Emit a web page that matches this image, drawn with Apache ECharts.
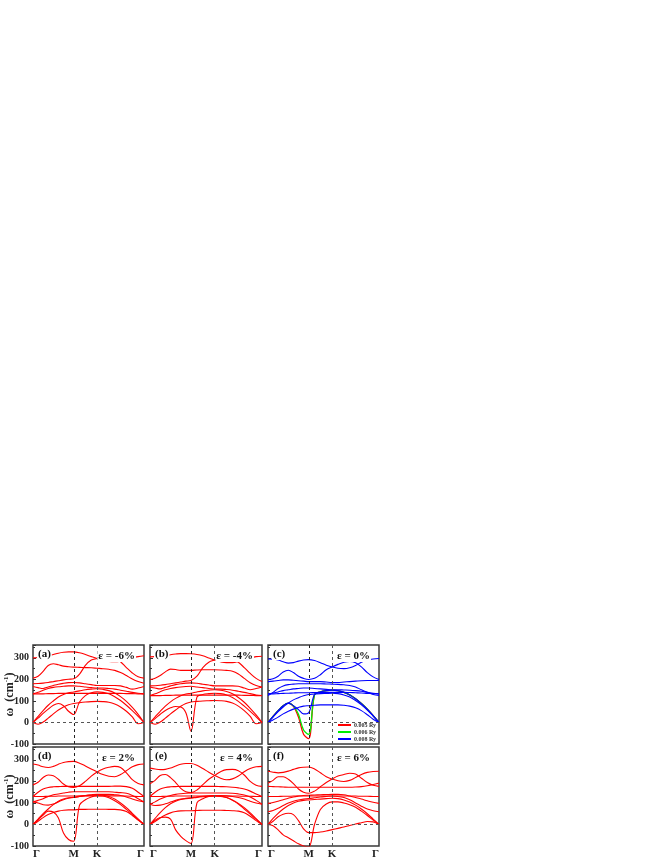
<!DOCTYPE html>
<html>
<head>
<meta charset="utf-8">
<script src="https://cdn.jsdelivr.net/npm/echarts@6/dist/echarts.min.js"></script>
<style>
  html, body { margin: 0; padding: 0; background: #fff; }
  #chart { width: 664px; height: 860px; }
</style>
</head>
<body>
<div id="chart"></div>
<script>
// k-path  Γ - M - K - Γ
const kPath = [0, 0.072, 0.144, 0.216, 0.289, 0.361, 0.433, 0.505, 0.577,
  0.661, 0.744, 0.828, 0.911,
  0.994, 1.078, 1.161, 1.244, 1.327, 1.411, 1.494, 1.577]
const kTicks = [0, 0.577, 0.911, 1.577]
const kTickLabels = ['Γ', 'M', 'K', 'Γ']

// (a) ε = -6%
const bandsA = [
  [300, 302, 305, 310, 316, 322, 326, 328, 328, 324, 316, 306, 297, 290, 284, 282, 285, 292, 300, 306, 310],
  [180, 181, 183, 186, 190, 194, 198, 201, 203, 225, 265, 290, 297, 304, 306, 300, 282, 255, 230, 212, 206],
  [206, 215, 238, 265, 273, 268, 262, 259, 257, 256, 255, 254, 252, 250, 247, 242, 232, 218, 202, 190, 182],
  [167, 162, 158, 165, 172, 178, 182, 185, 186, 184, 180, 176, 172, 172, 172, 172, 170, 163, 155, 160, 167],
  [133, 133, 133, 134, 134, 135, 135, 135, 135, 135, 135, 135, 135, 135, 135, 135, 135, 134, 134, 133, 133],
  [133, 140, 150, 158, 163, 166, 168, 170, 170, 168, 165, 162, 160, 160, 158, 155, 150, 145, 140, 136, 133],
  [0, 28, 55, 80, 100, 118, 130, 138, 142, 147, 152, 155, 157, 154, 148, 137, 120, 98, 70, 38, 0],
  [0, 20, 42, 62, 80, 88, 78, 52, 37, 95, 125, 138, 142, 140, 133, 120, 102, 80, 55, 28, 0],
  [0, -8, 2, 20, 40, 58, 72, 82, 88, 92, 95, 97, 98, 97, 94, 86, 72, 52, 26, -6, 0]
]

// (b) ε = -4%
const bandsB = [
  [305, 306, 308, 311, 315, 318, 320, 320, 319, 316, 310, 300, 290, 282, 278, 278, 283, 292, 300, 306, 308],
  [170, 171, 173, 176, 180, 184, 188, 192, 195, 215, 255, 280, 290, 298, 300, 295, 280, 255, 228, 205, 190],
  [200, 206, 218, 235, 248, 246, 242, 242, 242, 244, 245, 245, 245, 244, 242, 238, 225, 205, 185, 172, 165],
  [165, 160, 156, 163, 170, 176, 180, 183, 184, 182, 178, 174, 170, 170, 170, 170, 168, 160, 152, 158, 165],
  [125, 125, 125, 126, 126, 127, 127, 127, 127, 127, 127, 127, 127, 127, 127, 127, 127, 126, 126, 125, 125],
  [125, 133, 143, 152, 158, 162, 165, 167, 168, 165, 162, 158, 155, 155, 153, 150, 145, 140, 134, 128, 125],
  [0, 26, 52, 76, 96, 112, 124, 132, 136, 142, 147, 150, 152, 150, 144, 133, 116, 94, 66, 35, 0],
  [0, 18, 38, 56, 68, 74, 72, 45, -40, 118, 130, 134, 136, 134, 128, 116, 98, 76, 52, 26, 0],
  [0, -8, 2, 20, 40, 58, 75, 88, 95, 98, 100, 101, 102, 101, 98, 90, 76, 55, 28, -6, 0]
]

// (c) ε = 0%, blue = 0.008 Ry
const bandsC = [
  [295, 294, 290, 282, 276, 278, 285, 290, 292, 288, 278, 266, 258, 252, 250, 254, 265, 280, 290, 295, 297],
  [200, 203, 215, 235, 243, 232, 215, 205, 200, 205, 222, 245, 258, 270, 280, 284, 278, 258, 232, 212, 200],
  [190, 192, 195, 198, 198, 196, 194, 192, 190, 190, 190, 188, 186, 186, 188, 190, 192, 194, 195, 195, 195],
  [125, 140, 158, 170, 176, 178, 180, 180, 180, 180, 180, 179, 178, 177, 175, 172, 165, 152, 140, 130, 125],
  [133, 133, 134, 135, 136, 137, 138, 138, 138, 139, 140, 140, 140, 140, 140, 139, 138, 137, 135, 134, 133],
  [133, 137, 142, 148, 152, 156, 158, 160, 160, 158, 156, 154, 152, 152, 151, 150, 148, 145, 140, 136, 133],
  [0, 25, 50, 72, 90, 105, 115, 124, 130, 132, 134, 135, 136, 134, 128, 118, 102, 82, 58, 30, 0],
  [0, 12, 25, 40, 52, 62, 70, 76, 78, 80, 82, 82, 82, 82, 80, 76, 68, 55, 36, 15, 0]
]
const softC008 = [0, 28, 55, 78, 90, 78, 60, 40, 45, 130, 142, 148, 150, 148, 140, 128, 110, 88, 62, 32, 0]
const softC006 = [0, 28, 55, 78, 90, 77, 38, -35, -55, 128, 142, 148, 150, 148, 140, 128, 110, 88, 62, 32, 0]
const softC005 = [0, 28, 55, 78, 90, 75, 25, -55, -75, 130, 142, 148, 150, 148, 140, 128, 110, 88, 62, 32, 0]

// (d) ε = 2%
const bandsD = [
  [281, 276, 268, 265, 270, 280, 288, 292, 293, 285, 272, 258, 244, 232, 224, 222, 232, 250, 268, 278, 281],
  [184, 196, 218, 230, 226, 210, 188, 175, 172, 180, 200, 225, 244, 258, 266, 270, 265, 240, 208, 190, 184],
  [130, 150, 165, 172, 175, 176, 177, 177, 177, 177, 177, 177, 177, 177, 177, 178, 178, 176, 168, 150, 130],
  [130, 130, 130, 131, 131, 132, 132, 132, 132, 133, 133, 133, 133, 133, 133, 133, 132, 132, 131, 130, 130],
  [105, 112, 120, 130, 138, 142, 146, 150, 152, 152, 152, 152, 152, 152, 152, 150, 148, 145, 135, 120, 105],
  [105, 100, 92, 90, 95, 105, 115, 122, 125, 130, 135, 138, 140, 140, 140, 138, 135, 128, 118, 110, 105],
  [0, 25, 50, 72, 92, 108, 118, 124, 126, 130, 134, 136, 138, 136, 130, 118, 100, 78, 52, 26, 0],
  [0, 15, 32, 46, 56, 62, 66, 68, 68, 70, 70, 71, 71, 71, 70, 70, 68, 60, 42, 20, 0],
  [0, 22, 44, 62, 58, 30, -40, -70, -78, 90, 115, 128, 134, 132, 124, 110, 92, 70, 46, 22, 0]
]

// (e) ε = 4%
const bandsE = [
  [262, 258, 255, 256, 262, 272, 280, 283, 283, 275, 260, 243, 228, 215, 208, 212, 225, 245, 260, 268, 270],
  [189, 205, 228, 232, 218, 195, 168, 152, 148, 160, 185, 210, 228, 245, 255, 256, 250, 230, 200, 182, 177],
  [130, 150, 165, 172, 175, 176, 177, 177, 177, 177, 177, 177, 177, 176, 175, 173, 170, 165, 155, 142, 130],
  [130, 130, 130, 131, 131, 132, 132, 132, 132, 132, 132, 132, 132, 132, 132, 132, 132, 131, 131, 130, 130],
  [94, 105, 118, 128, 135, 140, 143, 145, 146, 146, 146, 146, 146, 146, 146, 145, 142, 137, 128, 112, 94],
  [94, 88, 90, 96, 104, 112, 118, 122, 124, 128, 131, 133, 134, 134, 133, 130, 125, 118, 108, 100, 94],
  [0, 28, 55, 78, 96, 108, 116, 120, 122, 126, 129, 131, 132, 130, 125, 114, 98, 78, 54, 27, 0],
  [0, 14, 30, 44, 54, 60, 63, 64, 64, 65, 66, 66, 66, 66, 65, 64, 62, 55, 38, 18, 0],
  [0, 20, 32, 34, 25, -25, -55, -75, -88, 100, 120, 130, 134, 132, 125, 112, 95, 72, 48, 24, 0]
]

// (f) ε = 6%
const bandsF = [
  [247, 243, 240, 242, 248, 256, 263, 266, 267, 258, 240, 222, 211, 203, 200, 205, 218, 232, 242, 246, 247],
  [192, 205, 222, 222, 210, 190, 165, 150, 145, 155, 175, 195, 211, 225, 232, 238, 235, 215, 195, 182, 177],
  [177, 176, 175, 174, 173, 173, 173, 173, 173, 173, 173, 173, 173, 173, 173, 173, 174, 176, 180, 186, 192],
  [130, 130, 130, 131, 131, 132, 132, 132, 132, 132, 132, 132, 132, 132, 132, 132, 132, 131, 131, 130, 130],
  [98, 102, 108, 115, 122, 128, 132, 135, 136, 137, 138, 139, 140, 140, 138, 132, 125, 118, 110, 103, 98],
  [59, 65, 75, 88, 100, 108, 114, 118, 120, 124, 128, 130, 132, 130, 125, 115, 100, 85, 72, 64, 59],
  [0, 28, 52, 72, 88, 100, 108, 112, 114, 116, 118, 120, 122, 120, 114, 104, 90, 72, 50, 25, 0],
  [0, 15, 36, 48, 52, 46, 18, -20, -38, -38, -35, -30, -24, -18, -12, -5, 2, 8, 14, 12, 0],
  [0, -6, -25, -48, -62, -76, -90, -100, -105, 0, 70, 95, 105, 105, 100, 92, 80, 62, 42, 20, 0]
]

const panelNames = ['(a)', '(b)', '(c)', '(d)', '(e)', '(f)']
const strainNames = ['ε = -6%', 'ε = -4%', 'ε = 0%', 'ε = 2%', 'ε = 4%', 'ε = 6%']
const legendNames = ['0.005 Ry', '0.006 Ry', '0.008 Ry']

const FONT = '"Liberation Serif", "Times New Roman", serif'
const RED = '#ff0000'
const BLUE = '#0000ff'
const GREEN = '#00ee00'

const chart = echarts.init(document.getElementById('chart'))

// panel boxes
const colLeft = [33, 150, 268]
const colWidth = [111, 112, 111]
const rowTop = [645, 747]
const rowHeight = 99

const grid = []
const xAxis = []
const yAxis = []
const series = []
const graphic = []

const toData = band => kPath.map((k, i) => [k, band[i]])

for (let p = 0; p < 6; p++) {
  const row = Math.floor(p / 3)
  const col = p % 3
  grid.push({
    left: colLeft[col],
    top: rowTop[row],
    width: colWidth[col],
    height: rowHeight,
    containLabel: false,
    outerBoundsMode: 'none',
    show: true,
    borderColor: '#3a3a3a',
    borderWidth: 1.5,
    backgroundColor: 'transparent'
  })

  xAxis.push({
    type: 'value',
    gridIndex: p,
    min: 0,
    max: 1.577,
    axisLine: { show: false },
    axisTick: { show: false },
    splitLine: { show: false },
    axisLabel: {
      show: row === 1,
      customValues: kTicks,
      formatter: v => {
        const i = kTicks.findIndex(t => Math.abs(t - v) < 1e-3)
        return i >= 0 ? kTickLabels[i] : ''
      },
      alignMinLabel: 'left',
      alignMaxLabel: 'right',
      margin: 3,
      fontFamily: FONT,
      fontWeight: 'bold',
      fontSize: 11,
      color: '#222'
    }
  })

  yAxis.push({
    type: 'value',
    gridIndex: p,
    min: -100,
    max: 360,
    interval: 100,
    axisLine: { show: false },
    axisTick: { show: true, inside: true, length: 3, lineStyle: { color: '#333' } },
    minorTick: { show: true, splitNumber: 2, length: 2, lineStyle: { color: '#333' } },
    splitLine: { show: false },
    axisLabel: {
      show: col === 0,
      showMaxLabel: false,
      margin: 4,
      fontFamily: FONT,
      fontWeight: 'bold',
      fontSize: 10,
      color: '#222'
    },
    name: col === 0 ? '{a|ω  (cm}{s|-1}{a|)}' : '',
    nameLocation: 'middle',
    nameGap: 17,
    nameMoveOverlap: false,
    nameTextStyle: {
      rich: {
        a: { fontFamily: FONT, fontWeight: 'bold', fontSize: 12, color: '#222' },
        s: { fontFamily: FONT, fontWeight: 'bold', fontSize: 7, color: '#222', verticalAlign: 'top', padding: [0, 0, 6, 0] }
      }
    }
  })

  // dashed guide lines at M, K and ω = 0
  series.push({
    type: 'line',
    xAxisIndex: p,
    yAxisIndex: p,
    data: [],
    silent: true,
    z: 1,
    markLine: {
      silent: true,
      symbol: 'none',
      label: { show: false },
      animation: false,
      data: [
        { xAxis: kTicks[1], lineStyle: { color: '#222', type: [3, 3], width: 1 } },
        { xAxis: kTicks[2], lineStyle: { color: '#555', type: [3, 3], width: 1 } },
        { yAxis: 0, lineStyle: { color: '#555', type: [3, 3], width: 1 } }
      ]
    }
  })

  graphic.push({
    type: 'text',
    left: colLeft[col] + 4,
    top: rowTop[row] + 4,
    z: 100,
    style: {
      text: panelNames[p],
      font: 'bold 11px ' + FONT,
      fill: '#111',
      backgroundColor: '#fff',
      padding: [0, 1]
    }
  })
  graphic.push({
    type: 'text',
    right: 664 - (colLeft[col] + colWidth[col]) + 8,
    top: rowTop[row] + 6,
    z: 100,
    style: {
      text: strainNames[p],
      font: 'bold 11px ' + FONT,
      fill: '#111',
      backgroundColor: '#fff',
      padding: [0, 1]
    }
  })
}

const addBands = (p, bands, color) => {
  bands.forEach(b => {
    series.push({
      type: 'line',
      xAxisIndex: p,
      yAxisIndex: p,
      data: toData(b),
      smooth: 0.35,
      symbol: 'none',
      silent: true,
      z: 3,
      lineStyle: { color, width: 1.1 }
    })
  })
}

addBands(0, bandsA, RED)
addBands(1, bandsB, RED)
// (c): three smearing widths, soft branch differs near M
series.push({
  name: legendNames[0], type: 'line', xAxisIndex: 2, yAxisIndex: 2,
  data: toData(softC005), smooth: 0.35, symbol: 'none', silent: true, z: 3,
  lineStyle: { color: RED, width: 1.3 }, itemStyle: { color: RED }
})
series.push({
  name: legendNames[1], type: 'line', xAxisIndex: 2, yAxisIndex: 2,
  data: toData(softC006), smooth: 0.35, symbol: 'none', silent: true, z: 3,
  lineStyle: { color: GREEN, width: 1.3 }, itemStyle: { color: GREEN }
})
addBands(2, bandsC, BLUE)
series.push({
  name: legendNames[2], type: 'line', xAxisIndex: 2, yAxisIndex: 2,
  data: toData(softC008), smooth: 0.35, symbol: 'none', silent: true, z: 3,
  lineStyle: { color: BLUE, width: 1.1 }, itemStyle: { color: BLUE }
})
addBands(3, bandsD, RED)
addBands(4, bandsE, RED)
addBands(5, bandsF, RED)

const option = {
  animation: false,
  backgroundColor: '#fff',
  grid,
  xAxis,
  yAxis,
  series,
  graphic,
  legend: {
    data: legendNames,
    orient: 'vertical',
    left: 338,
    top: 722,
    padding: 0,
    itemGap: 1,
    itemWidth: 13,
    itemHeight: 2,
    icon: 'rect',
    selectedMode: false,
    textStyle: { fontFamily: FONT, fontWeight: 'bold', fontSize: 6, color: '#333', lineHeight: 6, padding: [0, 0, 0, -2] }
  }
}

chart.setOption(option)
</script>
</body>
</html>
